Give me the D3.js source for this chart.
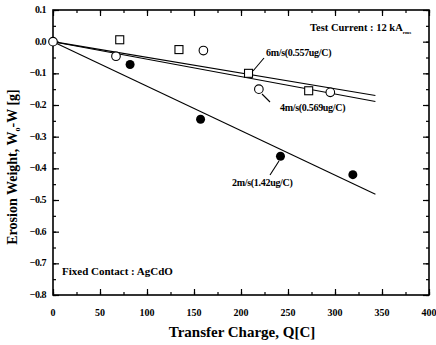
<!DOCTYPE html>
<html><head><meta charset="utf-8">
<script src="https://cdn.jsdelivr.net/npm/d3@7"></script>
<style>body{margin:0;background:#fff}svg{display:block}text{font-family:"Liberation Serif","DejaVu Serif",serif;font-weight:bold;fill:#000}</style>
</head><body><svg id="c" width="436" height="345"></svg>
<script>
const xTicks = [0, 50, 100, 150, 200, 250, 300, 350, 400];
const yTicks = [0.1, 0.0, -0.1, -0.2, -0.3, -0.4, -0.5, -0.6, -0.7, -0.8];
const q6 = [71, 134, 208, 272];
const w6 = [0.006, -0.025, -0.1, -0.155];
const q4 = [0, 67, 160, 219, 295];
const w4 = [0, -0.046, -0.028, -0.15, -0.16];
const q2 = [82, 157, 242, 319];
const w2 = [-0.072, -0.245, -0.362, -0.42];
const fitQ = [0, 343];
const fit6 = [0, -0.17];
const fit4 = [0, -0.189];
const fit2 = [0, -0.482];

const svg = d3.select("#c");
const x = d3.scaleLinear().domain([0, 400]).range([53, 429]);
const y = d3.scaleLinear().domain([-0.8, 0.1]).range([295, 10]);

const minorX = d3.range(0, 401, 25);
const minorY = d3.range(-0.8, 0.1001, 0.05);

const fmtY = d => d === 0 ? "0.0" : d3.format(".1f")(d);
function ax(gen, tr, vals, size) {
  svg.append("g").attr("transform", tr).call(gen.tickValues(vals).tickSize(size).tickFormat(""));
}
ax(d3.axisTop(x), `translate(0,${y(-0.8)})`, minorX, 3);
ax(d3.axisTop(x), `translate(0,${y(-0.8)})`, xTicks, 6);
ax(d3.axisBottom(x), `translate(0,${y(0.1)})`, minorX, 3);
ax(d3.axisBottom(x), `translate(0,${y(0.1)})`, xTicks, 6);
ax(d3.axisRight(y), `translate(${x(0)},0)`, minorY, 3);
ax(d3.axisRight(y), `translate(${x(0)},0)`, yTicks, 6);
ax(d3.axisLeft(y), `translate(${x(400)},0)`, minorY, 3);
ax(d3.axisLeft(y), `translate(${x(400)},0)`, yTicks, 6);
svg.selectAll(".domain").remove();
svg.selectAll(".tick line").attr("stroke", "#000").attr("stroke-width", 1.2);

svg.append("rect").attr("x", x(0)).attr("y", y(0.1)).attr("width", x(400) - x(0)).attr("height", y(-0.8) - y(0.1))
  .attr("fill", "none").attr("stroke", "#000").attr("stroke-width", 1.6);

svg.append("g").selectAll("text").data(xTicks).join("text")
  .attr("x", d => x(d)).attr("y", 316).attr("text-anchor", "middle").attr("font-size", 10).text(d => d);
svg.append("g").selectAll("text").data(yTicks).join("text")
  .attr("x", 46).attr("y", d => y(d) + 3).attr("text-anchor", "end").attr("font-size", 10)
  .attr("letter-spacing", -0.5).text(fmtY);

const line = d3.line().x(d => x(d[0])).y(d => y(d[1]));
[fit6, fit4, fit2].forEach(f => {
  svg.append("path").datum(fitQ.map((qq, i) => [qq, f[i]])).attr("d", line)
    .attr("fill", "none").attr("stroke", "#000").attr("stroke-width", 1.1);
});

svg.append("g").selectAll("rect").data(q6.map((qq, i) => [qq, w6[i]])).join("rect")
  .attr("x", d => x(d[0]) - 4).attr("y", d => y(d[1]) - 4).attr("width", 8).attr("height", 8)
  .attr("fill", "#fff").attr("stroke", "#000").attr("stroke-width", 1.1);
svg.append("g").selectAll("circle").data(q4.map((qq, i) => [qq, w4[i]])).join("circle")
  .attr("cx", d => x(d[0])).attr("cy", d => y(d[1])).attr("r", 4.3)
  .attr("fill", "#fff").attr("stroke", "#000").attr("stroke-width", 1.1);
svg.append("g").selectAll("circle").data(q2.map((qq, i) => [qq, w2[i]])).join("circle")
  .attr("cx", d => x(d[0])).attr("cy", d => y(d[1])).attr("r", 4.5).attr("fill", "#000");

function leader(x1, y1, x2, y2) {
  svg.append("line").attr("x1", x1).attr("y1", y1).attr("x2", x2).attr("y2", y2)
    .attr("stroke", "#000").attr("stroke-width", 1.1);
}
leader(264, 58, 253, 71);
svg.append("text").attr("x", 266).attr("y", 56).attr("font-size", 10).attr("letter-spacing", -0.3).text("6m/s(0.557ug/C)");
leader(262, 94, 270, 102);
svg.append("text").attr("x", 280).attr("y", 111).attr("font-size", 10).attr("letter-spacing", -0.3).text("4m/s(0.569ug/C)");
leader(279, 161, 270, 175);
svg.append("text").attr("x", 232).attr("y", 186).attr("font-size", 10).attr("letter-spacing", -0.3).text("2m/s(1.42ug/C)");

const tc = svg.append("text").attr("x", 310).attr("y", 31).attr("font-size", 10.5);
tc.append("tspan").text("Test Current : 12 kA");
tc.append("tspan").attr("font-size", 5).attr("dy", 3).text("rms");

svg.append("text").attr("x", 62).attr("y", 275).attr("font-size", 11).text("Fixed Contact : AgCdO");

svg.append("text").attr("x", 242).attr("y", 337).attr("text-anchor", "middle").attr("font-size", 15).text("Transfer Charge, Q[C]");
const yt = svg.append("text").attr("transform", "translate(17,167) rotate(-90)").attr("text-anchor", "middle").attr("font-size", 14);
yt.append("tspan").text("Erosion Weight, W");
yt.append("tspan").attr("font-size", 8).attr("dy", 3).text("o");
yt.append("tspan").attr("dy", -3).text("-W [g]");
</script></body></html>
